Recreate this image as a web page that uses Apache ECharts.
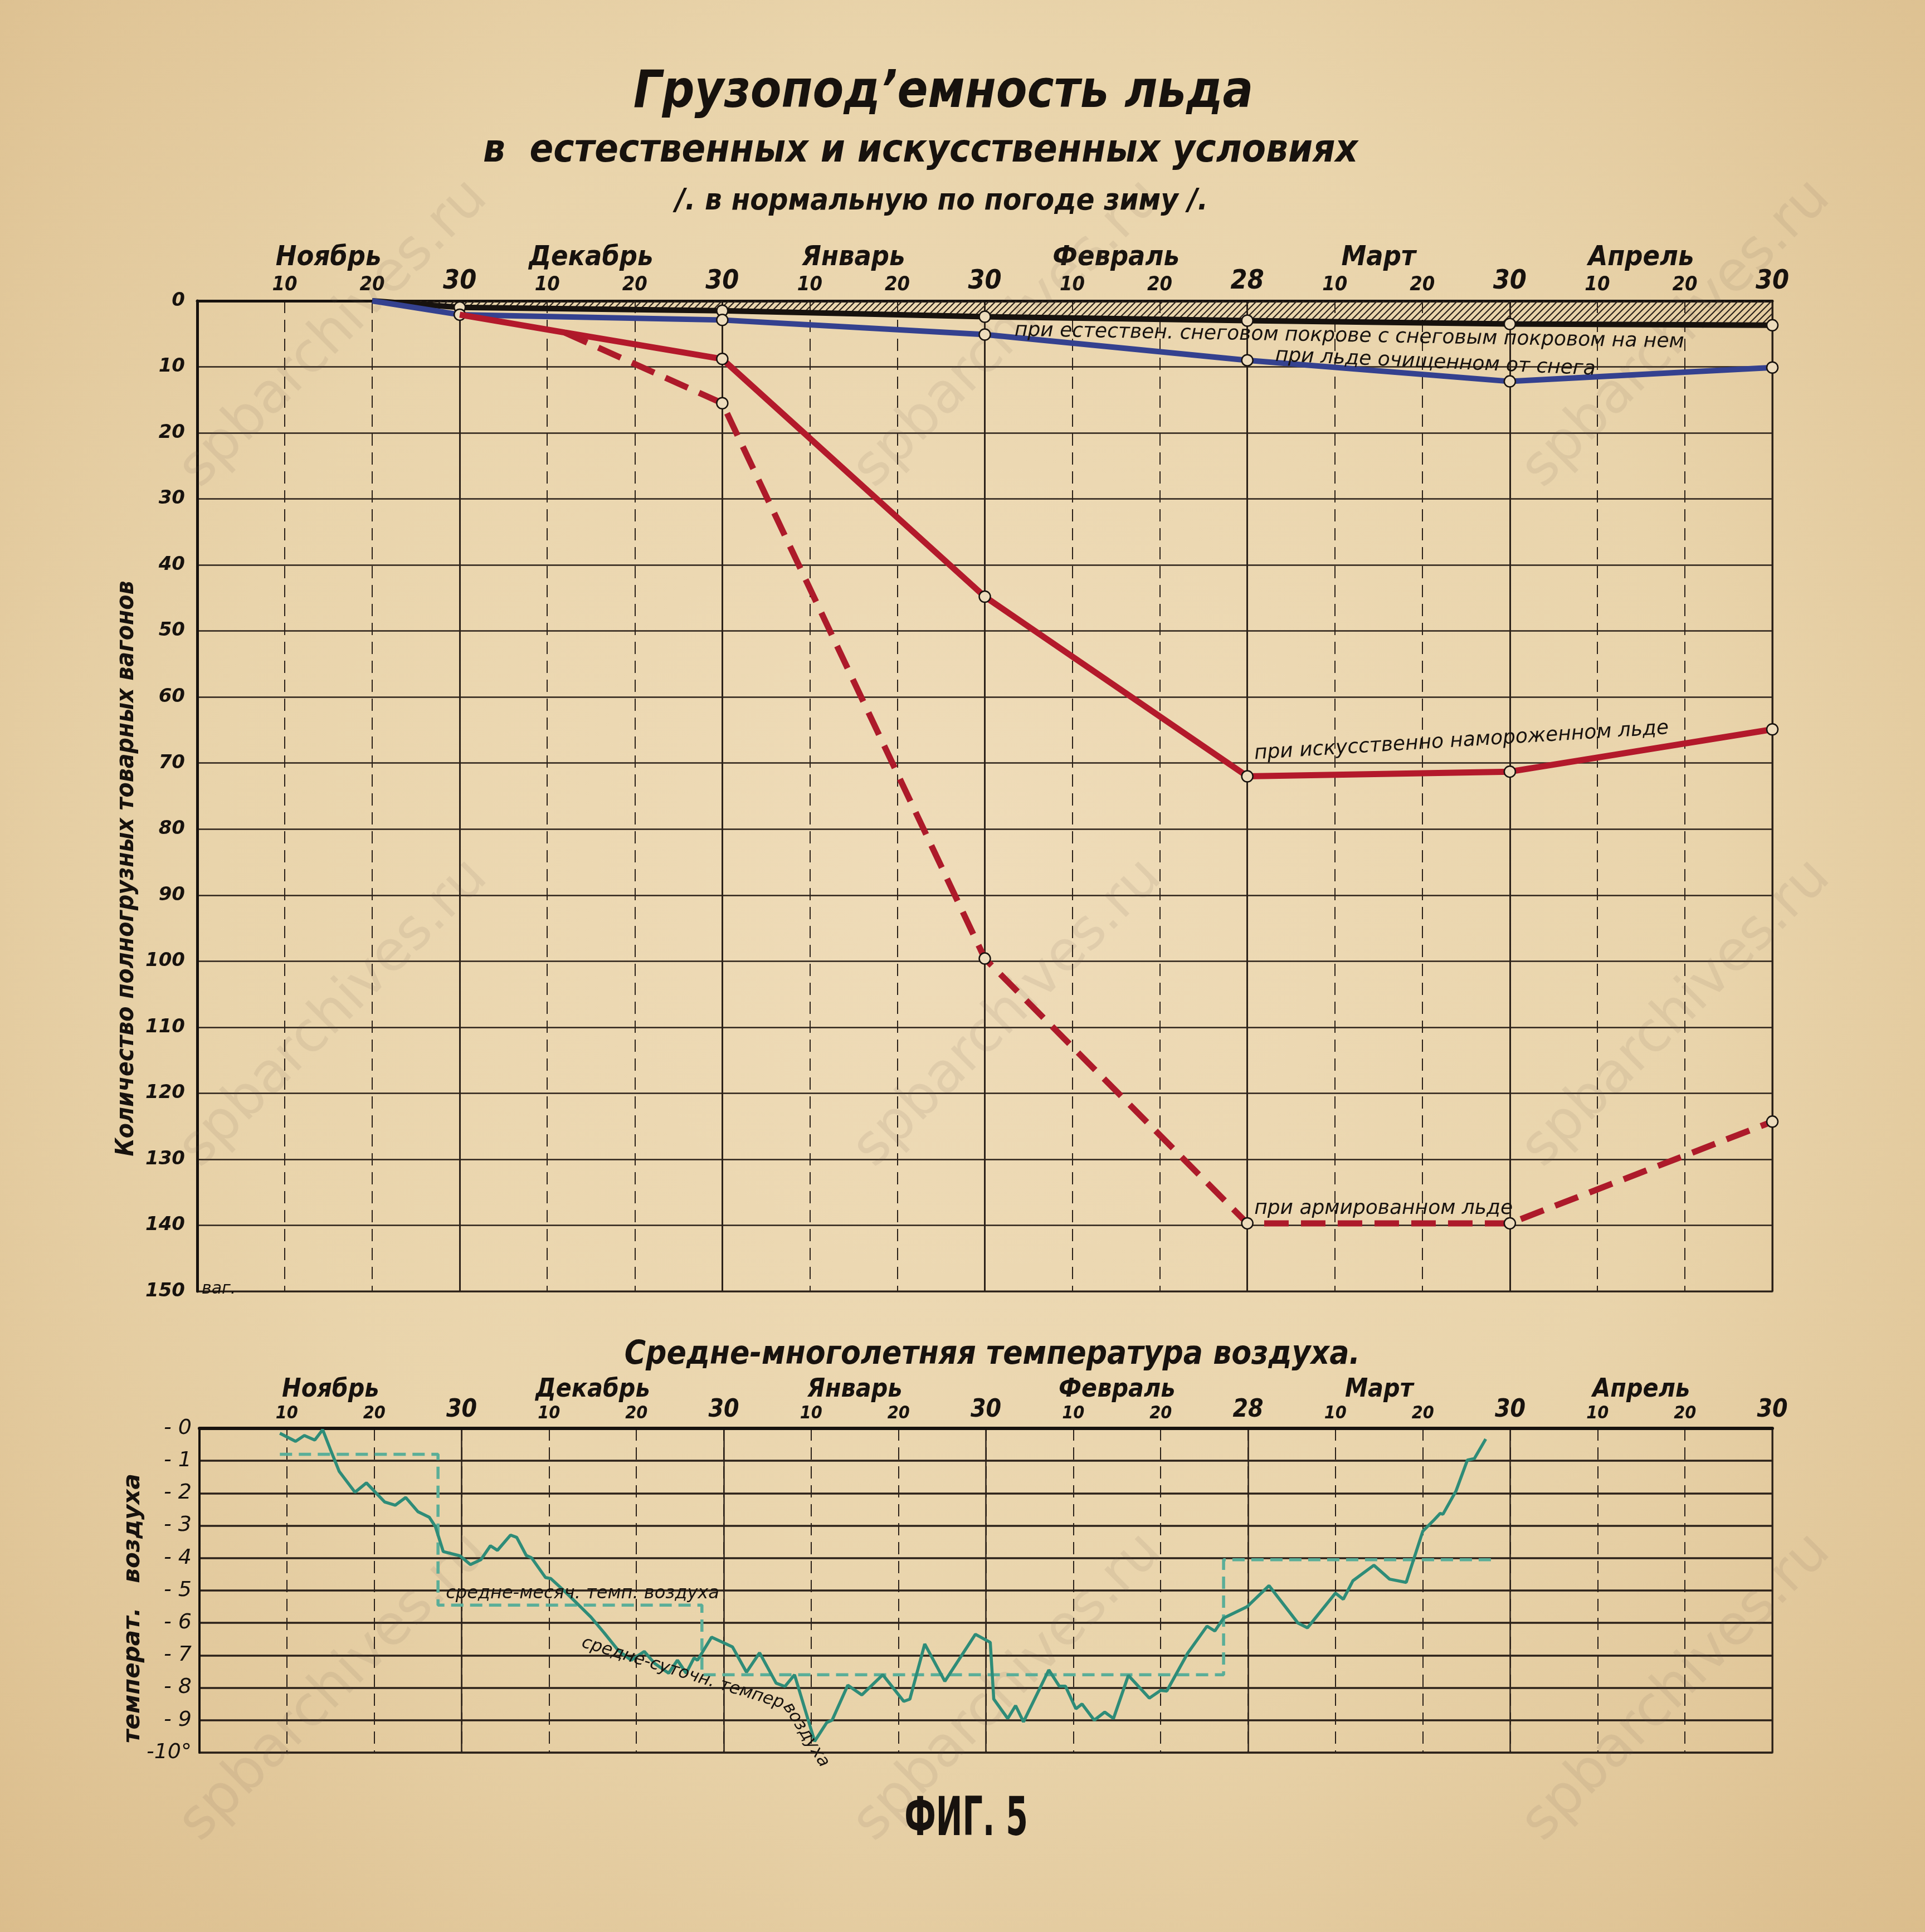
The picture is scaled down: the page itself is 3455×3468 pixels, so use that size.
<!DOCTYPE html>
<html><head><meta charset="utf-8">
<script src="https://cdn.jsdelivr.net/npm/echarts@6/dist/echarts.min.js"></script>
<style>
html,body{margin:0;padding:0;width:3455px;height:3468px;overflow:hidden;
background: radial-gradient(ellipse at 50% 45%, #efdcb9 0%, #e9d4ab 55%, #dbbd8c 100%);}
#c{width:3455px;height:3468px;}
</style></head><body><div id="c"></div>
<script>
// ---------- DATA ----------
const monthNames = ['Ноябрь','Декабрь','Январь','Февраль','Март','Апрель'];
const dayTickLabels = ['', '10','20','30','10','20','30','10','20','30','10','20','28','10','20','30','10','20','30'];
const loadTickLabels = ['0','10','20','30','40','50','60','70','80','90','100','110','120','130','140','150'];
const tempTickLabels = ['- 0','- 1','- 2','- 3','- 4','- 5','- 6','- 7','- 8','- 9','-10°'];

// load capacity (wagons); x = days counted from Oct 31 (each month = 30 units)
const loadDays = [20, 30, 60, 90, 120, 150, 180];
const naturalSnowCover = [0, 1.0, 1.5, 2.4, 3.0, 3.5, 3.7];
const clearedIce = [0, 2.1, 2.9, 5.1, 9.0, 12.2, 10.1];
const frozenDays = [30, 42, 60, 90, 120, 150, 180];
const artificiallyFrozen = [2.1, 4.8, 8.8, 44.8, 72.0, 71.3, 64.9];
const reinforcedDays = [42, 60, 90, 120, 150, 180];
const reinforcedIce = [4.8, 15.5, 99.6, 139.7, 139.7, 124.3];

// temperature
const tempDays = [9.2,11.0,12.0,13.2,14.1,15.0,16.0,17.8,19.1,21.2,22.4,23.6,25.0,26.3,27.0,27.9,29.8,31.0,32.2,33.3,34.1,35.6,36.3,37.4,38.0,39.6,40.2,41.7,43.3,44.8,46.3,47.9,49.4,50.9,52.1,53.7,54.7,55.7,56.6,57.0,58.6,61.0,62.6,64.1,66.0,67.0,68.1,70.4,71.8,72.4,74.2,75.8,78.2,80.6,81.3,83.0,85.3,88.8,90.5,90.9,92.5,93.4,94.3,97.2,98.4,99.1,100.3,101.0,102.4,103.6,104.6,106.3,108.7,110.0,110.7,113.1,115.3,116.2,117.2,119.9,122.4,125.7,126.8,130.0,130.9,132.0,134.4,136.2,138.1,140.0,141.3,142.0,142.3,143.8,145.1,145.9,147.2];
const dailyTemp = [-0.15,-0.4,-0.22,-0.36,-0.04,-0.66,-1.33,-1.97,-1.68,-2.27,-2.37,-2.13,-2.57,-2.74,-3.03,-3.8,-3.93,-4.2,-4.05,-3.62,-3.76,-3.29,-3.36,-3.92,-3.99,-4.6,-4.63,-5.0,-5.42,-5.82,-6.3,-6.84,-7.15,-6.88,-7.25,-7.55,-7.15,-7.55,-7.08,-7.15,-6.44,-6.74,-7.52,-6.92,-7.86,-7.96,-7.6,-9.65,-9.07,-9.0,-7.92,-8.22,-7.6,-8.42,-8.35,-6.65,-7.8,-6.35,-6.6,-8.35,-8.95,-8.55,-9.05,-7.45,-7.95,-7.95,-8.65,-8.5,-9.0,-8.75,-8.95,-7.62,-8.32,-8.08,-8.1,-6.93,-6.1,-6.25,-5.85,-5.5,-4.85,-6.0,-6.15,-5.08,-5.27,-4.7,-4.22,-4.65,-4.75,-3.17,-2.82,-2.62,-2.65,-1.93,-0.98,-0.93,-0.33];
const monthStart = [9.2, 27.3, 57.5, 117.2];
const monthEnd = [27.3, 57.5, 117.2, 148.5];
const monthlyMean = [-0.8, -5.45, -7.6, -4.05];

// ---------- STYLE ----------
const INK = '#17120e';
const GRID = '#2b2119';
const FONT = "'DejaVu Sans Condensed','DejaVu Sans',sans-serif";
const FONT2 = "'DejaVu Sans',sans-serif";
const PAPER = '#eddcbc';

const pc = document.createElement('canvas'); pc.width = 12; pc.height = 12;
const g = pc.getContext('2d'); g.strokeStyle = '#2b221b'; g.lineWidth = 2.2;
g.beginPath(); g.moveTo(0,12); g.lineTo(12,0); g.moveTo(-6,6); g.lineTo(6,-6); g.moveTo(6,18); g.lineTo(18,6); g.stroke();

function pts(xs, ys, noSym) {
  return xs.map((x, i) => {
    const d = {value: [x, ys[i]]};
    if (noSym && noSym.indexOf(i) >= 0) d.symbol = 'none';
    return d;
  });
}
const stepData = [];
monthStart.forEach((s, i) => { stepData.push([s, monthlyMean[i]]); stepData.push([monthEnd[i], monthlyMean[i]]); });

function dayLabel(big, small) {
  return {
    show: true, margin: 10, color: INK,
    formatter: v => { const t = dayTickLabels[Math.round(v / 10)]; return (t === '30' || t === '28') ? '{b|' + t + '}' : '{s|' + t + '}'; },
    rich: {
      b: {fontSize: big, fontStyle: 'italic', fontWeight: 'bold', fontFamily: FONT, color: INK},
      s: {fontSize: small, fontStyle: 'italic', fontWeight: 'bold', fontFamily: FONT, color: INK}
    }
  };
}
function monthAxis(grid, offset, size, shift) {
  return {
    type: 'value', gridIndex: grid, min: -shift, max: 180 - shift, interval: 15, position: 'top', offset: offset,
    axisLine: {show: false}, axisTick: {show: false}, splitLine: {show: false},
    axisLabel: {show: true, color: INK, fontSize: size, fontStyle: 'italic', fontWeight: 'bold', fontFamily: FONT,
      showMinLabel: false, showMaxLabel: false,
      formatter: v => { const k = Math.round((v + shift) / 15); return (k % 2 === 1) ? monthNames[(k - 1) / 2] : ''; }}
  };
}
const circle = {color: PAPER, borderColor: INK, borderWidth: 2.5};

const option = {
  animation: false,
  backgroundColor: 'transparent',
  grid: [
    {left: 354, top: 540, width: 2827, height: 1778, show: true, borderColor: GRID, borderWidth: 3, backgroundColor: 'transparent'},
    {left: 358, top: 2564, width: 2823, height: 582, show: true, borderColor: GRID, borderWidth: 3, backgroundColor: 'transparent'}
  ],
  xAxis: [
    {type: 'value', gridIndex: 0, min: 0, max: 180, interval: 10, position: 'top',
      axisLine: {show: true, lineStyle: {color: INK, width: 5}}, axisTick: {show: false},
      axisLabel: dayLabel(48, 36),
      splitLine: {show: true, lineStyle: {color: GRID, width: 2, type: [22, 12]}}},
    {type: 'value', gridIndex: 0, min: 0, max: 180, interval: 30, position: 'top',
      axisLine: {show: false}, axisTick: {show: false}, axisLabel: {show: false},
      splitLine: {show: true, lineStyle: {color: GRID, width: 3, type: 'solid'}}},
    monthAxis(0, 44, 50, 0),
    {type: 'value', gridIndex: 1, min: 0, max: 180, interval: 10, position: 'top',
      axisLine: {show: true, lineStyle: {color: INK, width: 6}}, axisTick: {show: false},
      axisLabel: dayLabel(44, 32),
      splitLine: {show: true, lineStyle: {color: GRID, width: 2, type: [22, 12]}}},
    {type: 'value', gridIndex: 1, min: 0, max: 180, interval: 30, position: 'top',
      axisLine: {show: false}, axisTick: {show: false}, axisLabel: {show: false},
      splitLine: {show: true, lineStyle: {color: GRID, width: 2.5, type: 'solid'}}},
    monthAxis(1, 38, 46, 1.5)
  ],
  yAxis: [
    {type: 'value', gridIndex: 0, min: 0, max: 150, interval: 10, inverse: true,
      axisLine: {show: true, lineStyle: {color: INK, width: 5}}, axisTick: {show: false},
      axisLabel: {show: true, margin: 22, color: INK, fontSize: 34, fontStyle: 'italic', fontWeight: 'bold', fontFamily: FONT2,
        formatter: v => loadTickLabels[Math.round(v / 10)]},
      splitLine: {show: true, lineStyle: {color: GRID, width: 2.5}}},
    {type: 'value', gridIndex: 1, min: -10, max: 0, interval: 1,
      axisLine: {show: true, lineStyle: {color: INK, width: 4}}, axisTick: {show: false},
      axisLabel: {show: true, margin: 14, color: INK, fontSize: 38, fontStyle: 'italic', fontFamily: FONT2,
        formatter: v => tempTickLabels[Math.round(-v)]},
      splitLine: {show: true, lineStyle: {color: GRID, width: 3.5}}}
  ],
  series: [
    {name: 'при естествен. снеговом покрове', type: 'line', xAxisIndex: 0, yAxisIndex: 0,
      data: pts(loadDays, naturalSnowCover, [0]), symbol: 'circle', symbolSize: 20, itemStyle: circle,
      lineStyle: {color: INK, width: 10}, areaStyle: {color: {image: pc, repeat: 'repeat'}, opacity: 1}, z: 3},
    {name: 'при льде очищенном от снега', type: 'line', xAxisIndex: 0, yAxisIndex: 0,
      data: pts(loadDays, clearedIce, [0]), symbol: 'circle', symbolSize: 20, itemStyle: circle,
      lineStyle: {color: '#34418f', width: 10}, z: 4},
    {name: 'при искусственно намороженном льде', type: 'line', xAxisIndex: 0, yAxisIndex: 0,
      data: pts(frozenDays, artificiallyFrozen, [0, 1]), symbol: 'circle', symbolSize: 20, itemStyle: circle,
      lineStyle: {color: '#b3192b', width: 11}, z: 5},
    {name: 'при армированном льде', type: 'line', xAxisIndex: 0, yAxisIndex: 0,
      data: pts(reinforcedDays, reinforcedIce, [0]), symbol: 'circle', symbolSize: 20, itemStyle: circle,
      lineStyle: {color: '#ad1a2a', width: 11, type: [44, 22]}, z: 5},
    {name: 'средне-суточн. темпер. воздуха', type: 'line', xAxisIndex: 3, yAxisIndex: 1,
      data: tempDays.map((d, i) => [d, dailyTemp[i]]), symbol: 'none',
      lineStyle: {color: '#2e8c78', width: 5.5}, z: 5},
    {name: 'средне-месяч. темп. воздуха', type: 'line', xAxisIndex: 3, yAxisIndex: 1,
      data: stepData, symbol: 'none',
      lineStyle: {color: '#5aae98', width: 5.5, type: [22, 12]}, z: 4}
  ]
};

const chart = echarts.init(document.getElementById('c'));
chart.setOption(option);

function P(grid, x, y) {
  return grid === 0 ? chart.convertToPixel({xAxisIndex: 0, yAxisIndex: 0}, [x, y])
                    : chart.convertToPixel({xAxisIndex: 3, yAxisIndex: 1}, [x, y]);
}
function txt(text, x, y, o) {
  o = o || {};
  return {type: 'text', x: x, y: y, rotation: (o.rot || 0) * Math.PI / 180, scaleX: o.sx || 1, z: 100,
    style: {text: text, fill: o.color || INK, font: (o.style || 'italic') + ' ' + (o.weight || 'normal') + ' ' + (o.size || 36) + 'px ' + (o.family || FONT2),
      align: o.align || 'left', verticalAlign: o.va || 'middle'}};
}
function dtxt(text, grid, dx, dy, o) { const p = P(grid, dx, dy); return txt(text, p[0], p[1], o); }

const graphics = [];
// watermarks
[[600, 600], [1810, 600], [3010, 600], [600, 1820], [1810, 1820], [3010, 1820], [600, 3030], [1810, 3030], [3010, 3030]].forEach(p => {
  graphics.push({type: 'text', x: p[0], y: p[1], rotation: Math.PI / 4, z: 1,
    style: {text: 'spbarchives.ru', fill: 'rgba(110,90,80,0.10)', font: 'normal 100px ' + FONT2, align: 'center', verticalAlign: 'middle'}});
});
// titles
graphics.push(txt('Грузопод’емность льда', 1693, 168, {size: 92, weight: 'bold', family: FONT, align: 'center', sx: 0.98}));
graphics.push(txt('в  естественных и искусственных условиях', 1652, 272, {size: 70, weight: 'bold', family: FONT, align: 'center'}));
graphics.push(txt('/. в нормальную по погоде зиму /.', 1690, 362, {size: 54, weight: 'bold', family: FONT, align: 'center'}));
graphics.push(txt('Средне-многолетняя температура воздуха.', 1781, 2433, {size: 58, weight: 'bold', family: FONT, align: 'center'}));
graphics.push(txt('ФИГ. 5', 1734, 3269, {size: 96, weight: 'bold', style: 'normal', family: FONT, align: 'center', sx: 0.66}));
// axis titles
graphics.push(txt('Количество полногрузных товарных вагонов', 228, 1559, {size: 44, weight: 'bold', family: FONT, align: 'center', rot: 90}));
graphics.push(txt('температ.   воздуха', 239, 2887, {size: 42, weight: 'bold', family: FONT2, align: 'center', rot: 90}));
const p150 = P(0, 0, 150);
graphics.push(txt('ваг.', p150[0] + 8, p150[1] - 4, {size: 30}));
// annotations top
graphics.push(dtxt('при естествен. снеговом покрове с снеговым покровом на нем', 0, 93.4, 4.5, {size: 36, rot: -1}));
graphics.push(dtxt('при льде очищенном от снега', 0, 123.2, 8.3, {size: 36, rot: -2.5}));
graphics.push(dtxt('при искусственно намороженном льде', 0, 120.8, 68.6, {size: 36, rot: 3.5}));
graphics.push(dtxt('при армированном льде', 0, 120.8, 137.5, {size: 36}));
// annotations bottom
graphics.push(dtxt('средне-месяч. темп. воздуха', 1, 28.2, -5.1, {size: 32}));
graphics.push(dtxt('средне-суточн. темпер', 1, 43.8, -6.6, {size: 31, rot: -17}));
graphics.push(dtxt('воздуха', 1, 67.2, -8.5, {size: 31, rot: -58}));

chart.setOption({graphic: graphics});
</script></body></html>
